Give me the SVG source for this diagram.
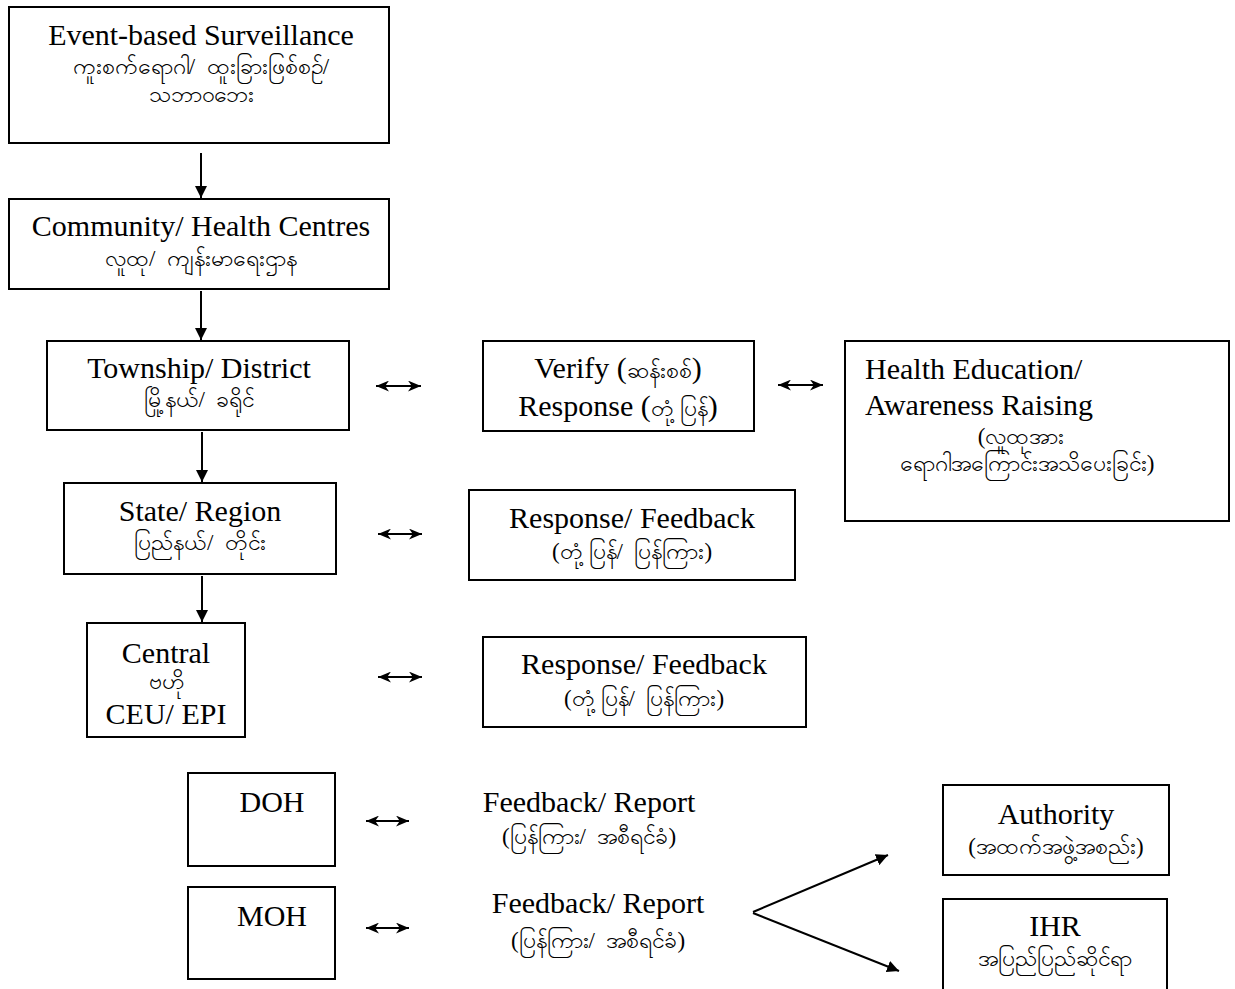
<svg xmlns="http://www.w3.org/2000/svg" width="1235" height="989" viewBox="0 0 1235 989">
  <style>
    .box { fill: #ffffff; stroke: #000000; stroke-width: 2; }
    .t { font-family: "Liberation Serif", "Times New Roman", serif; fill: #000000; white-space: pre; }
    .en { font-size: 30px; }
    .my { font-size: 23px; }
    .c { text-anchor: middle; }
    .link { stroke: #000000; stroke-width: 2; fill: none; }
    .bi { stroke: #000000; stroke-width: 2.2; fill: none; }
  </style>
  <defs>
    <marker id="headL" viewBox="0 0 10 10" refX="10" refY="5" markerWidth="12" markerHeight="12" markerUnits="userSpaceOnUse" orient="auto">
      <path d="M0,0 L10,5 L0,10 z" fill="#000000"/>
    </marker>
    <marker id="tip" viewBox="0 0 12 10" refX="12" refY="5" markerWidth="13" markerHeight="11" markerUnits="userSpaceOnUse" orient="auto-start-reverse">
      <path d="M0,0 L12,5 L0,10 L3.5,5 z" fill="#000000"/>
    </marker>
  </defs>

  <g id="connectors">
    <!-- vertical reporting chain -->
    <line class="link" x1="201" y1="153" x2="201" y2="198" marker-end="url(#headL)"/>
    <line class="link" x1="201" y1="291" x2="201" y2="340" marker-end="url(#headL)"/>
    <line class="link" x1="202" y1="432" x2="202" y2="482" marker-end="url(#headL)"/>
    <line class="link" x1="202" y1="576" x2="202" y2="622" marker-end="url(#headL)"/>
    <!-- two-way exchanges -->
    <line class="bi" x1="376" y1="386" x2="421" y2="386" marker-start="url(#tip)" marker-end="url(#tip)"/>
    <line class="bi" x1="778" y1="385" x2="823" y2="385" marker-start="url(#tip)" marker-end="url(#tip)"/>
    <line class="bi" x1="378" y1="534" x2="422" y2="534" marker-start="url(#tip)" marker-end="url(#tip)"/>
    <line class="bi" x1="378" y1="677" x2="422" y2="677" marker-start="url(#tip)" marker-end="url(#tip)"/>
    <line class="bi" x1="366" y1="821" x2="409" y2="821" marker-start="url(#tip)" marker-end="url(#tip)"/>
    <line class="bi" x1="366" y1="928" x2="409" y2="928" marker-start="url(#tip)" marker-end="url(#tip)"/>
    <!-- split to authority and IHR -->
    <line class="link" x1="753" y1="912" x2="888" y2="855" marker-end="url(#headL)"/>
    <line class="link" x1="753" y1="913" x2="899" y2="971" marker-end="url(#headL)"/>
  </g>

  <g id="node-ebs">
    <rect class="box" x="9" y="7" width="380" height="136"/>
    <text class="t en c" x="201" y="45">Event-based Surveillance</text>
    <text class="t my c" x="201" y="74">ကူးစက်ရောဂါ/  ထူးခြားဖြစ်စဉ်/</text>
    <text class="t my c" x="201" y="102">သဘာဝဘေး</text>
  </g>

  <g id="node-community">
    <rect class="box" x="9" y="199" width="380" height="90"/>
    <text class="t en c" x="201" y="236">Community/ Health Centres</text>
    <text class="t my c" x="201" y="266">လူထု/  ကျန်းမာရေးဌာန</text>
  </g>

  <g id="node-township">
    <rect class="box" x="47" y="341" width="302" height="89"/>
    <text class="t en c" x="199" y="378">Township/ District</text>
    <text class="t my c" x="199" y="407">မြို့နယ်/  ခရိုင်</text>
  </g>

  <g id="node-verify">
    <rect class="box" x="483" y="341" width="271" height="90"/>
    <text class="t en c" x="618" y="378">Verify (<tspan class="my">ဆန်းစစ်</tspan>)</text>
    <text class="t en c" x="618" y="416">Response (<tspan class="my">တုံ့ပြန်</tspan>)</text>
  </g>

  <g id="node-health-education">
    <rect class="box" x="845" y="341" width="384" height="180"/>
    <text class="t en" x="865" y="379">Health Education/</text>
    <text class="t en" x="865" y="415">Awareness Raising</text>
    <text class="t my c" x="1021" y="444">(လူထုအား</text>
    <text class="t my c" x="1027" y="471">ရောဂါအကြောင်းအသိပေးခြင်း)</text>
  </g>

  <g id="node-state">
    <rect class="box" x="64" y="483" width="272" height="91"/>
    <text class="t en c" x="200" y="521">State/ Region</text>
    <text class="t my c" x="200" y="550">ပြည်နယ်/  တိုင်း</text>
  </g>

  <g id="node-response-state">
    <rect class="box" x="469" y="490" width="326" height="90"/>
    <text class="t en c" x="632" y="528">Response/ Feedback</text>
    <text class="t my c" x="632" y="559">(တုံ့ပြန်/  ပြန်ကြား)</text>
  </g>

  <g id="node-central">
    <rect class="box" x="87" y="623" width="158" height="114"/>
    <text class="t en c" x="166" y="663">Central</text>
    <text class="t my c" x="166" y="689">ဗဟို</text>
    <text class="t en c" x="166" y="724">CEU/ EPI</text>
  </g>

  <g id="node-response-central">
    <rect class="box" x="483" y="637" width="323" height="90"/>
    <text class="t en c" x="644" y="674">Response/ Feedback</text>
    <text class="t my c" x="644" y="706">(တုံ့ပြန်/  ပြန်ကြား)</text>
  </g>

  <g id="node-doh">
    <rect class="box" x="188" y="773" width="147" height="93"/>
    <text class="t en c" x="272" y="812">DOH</text>
  </g>

  <g id="label-doh-report">
    <text class="t en c" x="589" y="812">Feedback/ Report</text>
    <text class="t my c" x="589" y="844">(ပြန်ကြား/  အစီရင်ခံ)</text>
  </g>

  <g id="node-moh">
    <rect class="box" x="188" y="887" width="147" height="92"/>
    <text class="t en c" x="272" y="926">MOH</text>
  </g>

  <g id="label-moh-report">
    <text class="t en c" x="598" y="913">Feedback/ Report</text>
    <text class="t my c" x="598" y="948">(ပြန်ကြား/  အစီရင်ခံ)</text>
  </g>

  <g id="node-authority">
    <rect class="box" x="943" y="785" width="226" height="90"/>
    <text class="t en c" x="1056" y="824">Authority</text>
    <text class="t my c" x="1056" y="854">(အထက်အဖွဲ့အစည်း)</text>
  </g>

  <g id="node-ihr">
    <rect class="box" x="943" y="899" width="224" height="92"/>
    <text class="t en c" x="1055" y="936">IHR</text>
    <text class="t my c" x="1055" y="966">အပြည်ပြည်ဆိုင်ရာ</text>
  </g>
</svg>
